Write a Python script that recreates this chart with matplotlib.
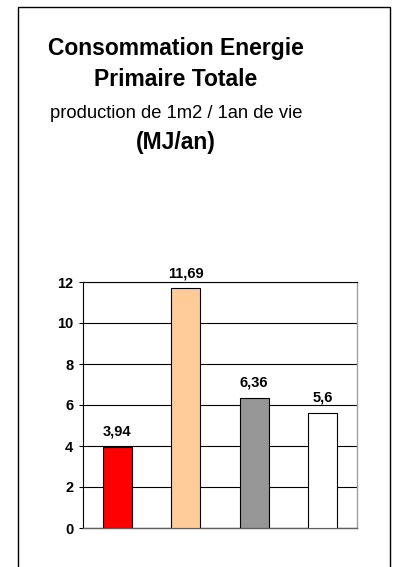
import matplotlib
matplotlib.use("Agg")
import matplotlib.pyplot as plt
from matplotlib.patches import Rectangle

plt.rcParams['font.family'] = ['Liberation Sans', 'DejaVu Sans']

# Data
categories = ["A", "B", "C", "D"]
values = [3.94, 11.69, 6.36, 5.6]
value_labels = ["3,94", "11,69", "6,36", "5,6"]
bar_colors = ["#FF0000", "#FFCC99", "#969696", "#FFFFFF"]
y_ticks = [0, 2, 4, 6, 8, 10, 12]

W, H = 395, 567
fig = plt.figure(figsize=(W / 100, H / 100), dpi=100)
fig.patch.set_facecolor("white")

# Outer frame
frame = Rectangle((18 / W, -0.05), (390 - 18) / W, 1.05 - 7 / H,
                  transform=fig.transFigure, fill=False,
                  edgecolor="black", linewidth=1.0)
fig.patches.append(frame)

# Titles
cx = 176 / W
fig.text(cx, 1 - 48 / H, "Consommation Energie", ha="center", va="center",
         fontsize=16.5, fontweight="bold")
fig.text(cx, 1 - 80 / H, "Primaire Totale", ha="center", va="center",
         fontsize=16.5, fontweight="bold")
fig.text(cx, 1 - 114 / H, "production de 1m2 / 1an de vie", ha="center",
         va="center", fontsize=13.2)
fig.text(cx, 1 - 142 / H, "(MJ/an)", ha="center", va="center",
         fontsize=16.5, fontweight="bold")

# Plot area
left, right, top, bottom = 83, 357, 282, 528
ax = fig.add_axes([left / W, 1 - bottom / H, (right - left) / W, (bottom - top) / H])
x = list(range(len(categories)))
bars = ax.bar(x, values, width=0.42, color=bar_colors, edgecolor="black",
              linewidth=0.8, zorder=3)
ax.set_xlim(-0.5, len(categories) - 0.5)
ax.set_ylim(0, 12)
ax.set_yticks(y_ticks)
ax.set_yticklabels([str(t) for t in y_ticks], fontsize=10.5, fontweight="bold")
ax.set_xticks([])
ax.yaxis.grid(True, color="black", linewidth=0.8, zorder=0)
ax.set_axisbelow(True)
ax.tick_params(axis="y", length=3, width=0.8, pad=4, direction="out")
ax.spines["left"].set_color("black")
ax.spines["left"].set_linewidth(0.8)
ax.spines["top"].set_color("black")
ax.spines["top"].set_linewidth(0.8)
ax.spines["right"].set_color("#A0A0A0")
ax.spines["right"].set_linewidth(1.0)
ax.spines["bottom"].set_color("#606060")
ax.spines["bottom"].set_linewidth(1.0)

for rect, lab in zip(bars, value_labels):
    ax.annotate(lab, (rect.get_x() + rect.get_width() / 2, rect.get_height()),
                xytext=(0, 6), textcoords="offset points", ha="center",
                va="bottom", fontsize=10.5, fontweight="bold", clip_on=False)

fig.savefig("out.png", dpi=100, facecolor="white")
